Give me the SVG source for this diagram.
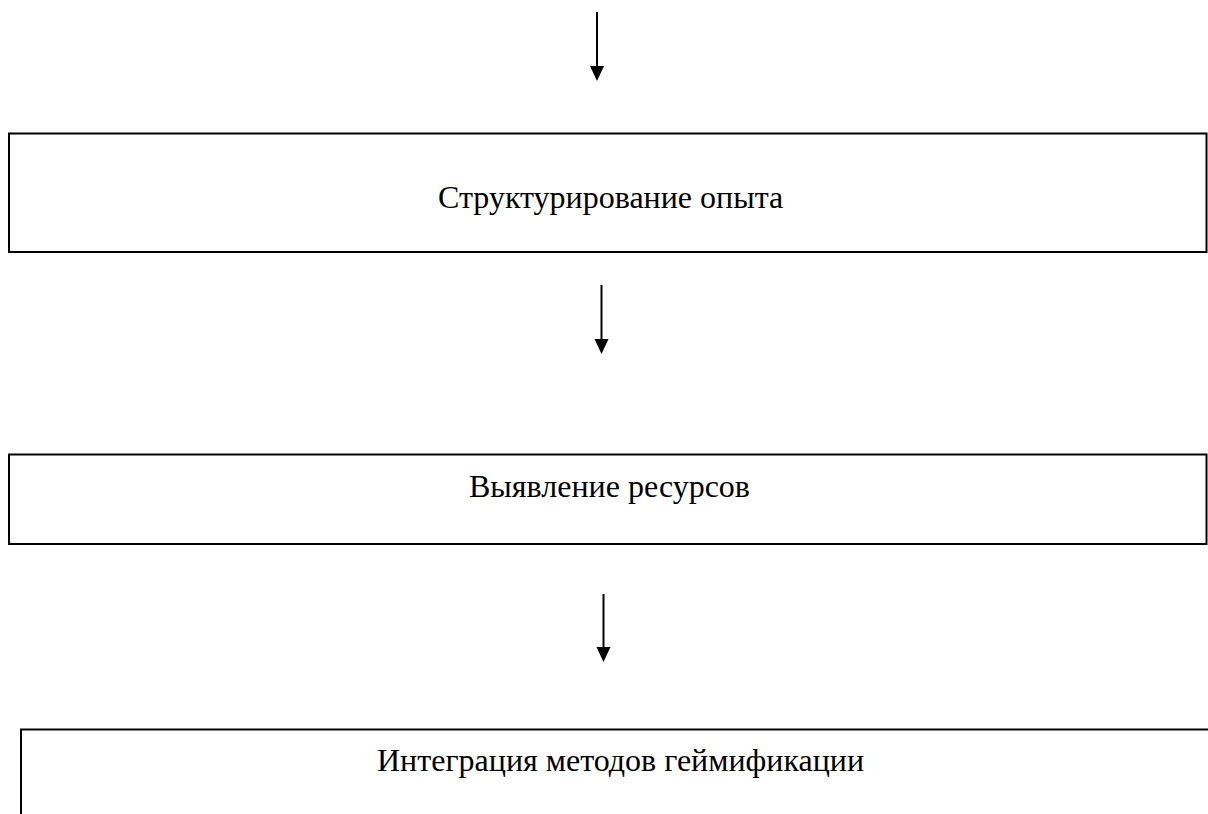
<svg xmlns="http://www.w3.org/2000/svg" width="1208" height="814" viewBox="0 0 1208 814">
<style>
.box{fill:#fff;stroke:#000;stroke-width:2}
.lbl{font-family:"Liberation Serif","Times New Roman",serif;font-size:32px;fill:#000}
.arr{stroke:#000;stroke-width:2;fill:none}
.head{fill:#000}
</style>
<rect width="1208" height="814" fill="#fff"/>
<g id="connectors">
<line class="arr" x1="597" y1="12" x2="597" y2="67"/><path class="head" d="M590,66 L604,66 L597,81 Z"/>
<line class="arr" x1="601.5" y1="285" x2="601.5" y2="340"/><path class="head" d="M594.5,339 L608.5,339 L601.5,354 Z"/>
<line class="arr" x1="603.5" y1="594" x2="603.5" y2="648"/><path class="head" d="M596.5,647 L610.5,647 L603.5,662 Z"/>
</g>
<g id="node1">
<rect class="box" x="9" y="133.5" width="1197.5" height="118.5"/>
<text class="lbl" x="438" y="208">Структурирование опыта</text>
</g>
<g id="node2">
<rect class="box" x="9" y="454.5" width="1197.5" height="89.5"/>
<text class="lbl" x="469" y="497">Выявление ресурсов</text>
</g>
<g id="node3">
<rect class="box" x="21" y="729.5" width="1200" height="100"/>
<text class="lbl" x="377" y="771">Интеграция методов геймификации</text>
</g>
</svg>
